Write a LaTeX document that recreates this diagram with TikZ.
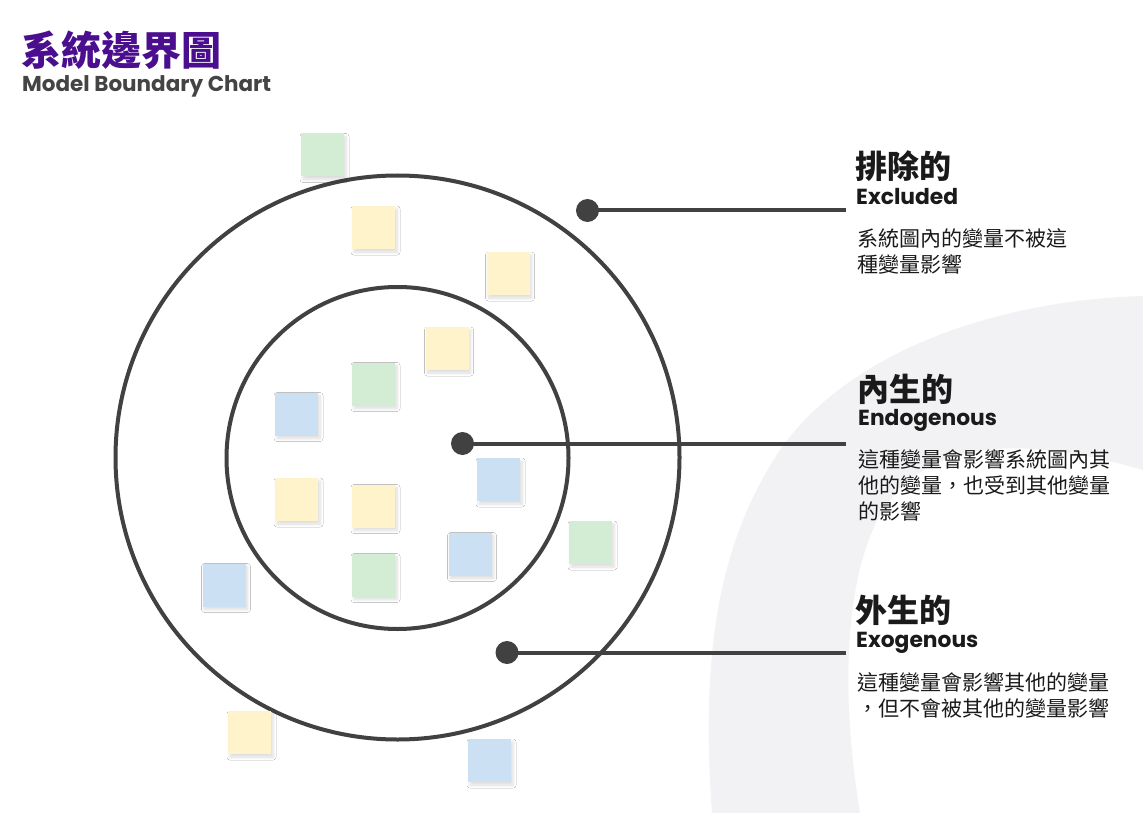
\documentclass[tikz,border=0pt]{standalone}
\usepackage{fontspec}
\newfontfamily\cjk{Noto Sans CJK TC}
\newfontfamily\en{Poppins}
\usetikzlibrary{shadows.blur}
\definecolor{ink}{HTML}{414141}
\definecolor{titlepurple}{HTML}{4A0E8F}
\definecolor{subgray}{HTML}{444444}
\definecolor{brushgray}{HTML}{F2F2F4}
\definecolor{ngreen}{HTML}{D3ECD4}
\definecolor{nyellow}{HTML}{FFF3CC}
\definecolor{nblue}{HTML}{CBE1F3}
\definecolor{txt}{HTML}{1A1A1A}
\tikzset{
  ring/.style={circle, draw=ink, line width=4pt, inner sep=0pt, outer sep=0pt},
  dotnode/.style={circle, fill=ink, inner sep=0pt, minimum size=23pt},
  leader/.style={draw=ink, line width=4pt},
  note/.style={rectangle, inner sep=0pt, minimum size=43pt,
    blur shadow={shadow xshift=2pt, shadow yshift=-3pt, shadow blur radius=3pt, shadow opacity=14, shadow blur steps=8}},
  head/.style={anchor=base west, inner sep=0pt, text=txt, font=\cjk\bfseries\fontsize{32}{32}\selectfont},
  eng/.style={anchor=base west, inner sep=0pt, text=txt, font=\en\bfseries\fontsize{21.8}{21.8}\selectfont},
  desc/.style={anchor=base west, inner sep=0pt, text=txt, font=\cjk\fontsize{21}{21}\selectfont}
}
\begin{document}
\begin{tikzpicture}[x=1pt,y=-1pt]
\fill[white] (0,0) rectangle (1143,813);
\useasboundingbox (0,0) rectangle (1143,813);
% background brush stroke
\fill[brushgray] (1143,296) .. controls (1000,300) and (850,350) .. (780,450)
  .. controls (720,540) and (700,650) .. (712,813) -- (860,813)
  .. controls (840,690) and (845,580) .. (880,515)
  .. controls (930,430) and (1040,440) .. (1143,470) -- cycle;
% title
\node[anchor=base west, inner sep=0pt, text=titlepurple, font=\cjk\bfseries\fontsize{40}{40}\selectfont] (title) at (21,66) {系統邊界圖};
\node[anchor=base west, inner sep=0pt, text=subgray, font=\en\bfseries\fontsize{21.5}{21.5}\selectfont] (subtitle) at (22,91.5) {Model Boundary Chart};
% circles
\node[ring, minimum size=564pt] (outer) at (397.5,457.5) {};
\node[ring, minimum size=342pt] (inner) at (397.5,458) {};
% sticky notes
\node[note, fill=ngreen]  (n1)  at (322.5,155) {};
\node[note, fill=nyellow] (n2)  at (373.5,227.5) {};
\node[note, fill=nyellow] (n3)  at (508,273.5) {};
\node[note, fill=nyellow] (n4)  at (447,348.5) {};
\node[note, fill=ngreen]  (n5)  at (373.5,384) {};
\node[note, fill=nblue]   (n6)  at (296.5,414) {};
\node[note, fill=nblue]   (n7)  at (498.5,479.5) {};
\node[note, fill=nyellow] (n8)  at (296.5,499.5) {};
\node[note, fill=nyellow] (n9)  at (373.5,506) {};
\node[note, fill=nblue]   (n10) at (470,554) {};
\node[note, fill=ngreen]  (n11) at (590.5,542.5) {};
\node[note, fill=ngreen]  (n12) at (373.5,575) {};
\node[note, fill=nblue]   (n13) at (224,585) {};
\node[note, fill=nyellow] (n14) at (249.5,732.5) {};
\node[note, fill=nblue]   (n15) at (489.5,760.5) {};
% leaders
\node[dotnode] (d1) at (587.5,210.5) {};
\node[dotnode] (d2) at (462.5,443.5) {};
\node[dotnode] (d3) at (507,652.5) {};
\coordinate (e1) at (846,210.5);
\coordinate (e2) at (846,443.5);
\coordinate (e3) at (846,652.5);
\draw[leader] (d1.center) -- (e1);
\draw[leader] (d2.center) -- (e2);
\draw[leader] (d3.center) -- (e3);
% Excluded
\node[head] (h1) at (855,179) {排除的};
\node[eng]  (t1) at (856,205) {Excluded};
\node[desc] (a1) at (857,246) {系統圖內的變量不被這};
\node[desc] (a2) at (857,272) {種變量影響};
% Endogenous
\node[head] (h2) at (857,401) {內生的};
\node[eng]  (t2) at (858,425) {Endogenous};
\node[desc] (b1) at (858,467) {這種變量會影響系統圖內其};
\node[desc] (b2) at (858,493) {他的變量，也受到其他變量};
\node[desc] (b3) at (858,519) {的影響};
% Exogenous
\node[head] (h3) at (855,622) {外生的};
\node[eng]  (t3) at (856,647) {Exogenous};
\node[desc] (c1) at (857,690) {這種變量會影響其他的變量};
\node[desc] (c2) at (857,716) {，但不會被其他的變量影響};
\end{tikzpicture}
\end{document}
